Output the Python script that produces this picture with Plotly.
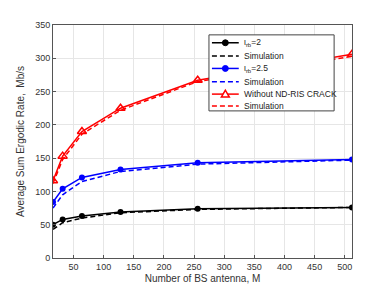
import plotly.graph_objects as go

M = [16, 32, 64, 128, 256, 512]
theory_2 = [50, 58, 63, 69, 74, 76]
sim_2 = [43, 53, 60, 68, 73, 76]
theory_25 = [84, 104, 121, 133, 143, 148]
sim_25 = [75, 95, 115, 130, 141, 147]
theory_no = [116, 153, 190, 225, 267, 306]
sim_no = [112, 148, 186, 222, 265, 303]
legend_labels = ["ι<sub>rb</sub>=2", "Simulation", "ι<sub>rb</sub>=2.5", "Simulation",
                 "Without ND-RIS CRACK", "Simulation"]

W, H = 388, 291
OFF = 8  # page body margin offset
# target plot area on screen: x 51..352, y 22..258
L = 51 - OFF
T = 22 - OFF
R = W - (352 - OFF)
B = H - (258 - OFF)
PW, PH = W - L - R, H - T - B
DASH = "5px,3px"


def px(x):
    return (x - OFF - L) / PW


def py(y):
    return (H - B - (y - OFF)) / PH


fig = go.Figure()
styles = [
    dict(color="black", dash="solid", marker="circle"),
    dict(color="black", dash=DASH, marker=None),
    dict(color="blue", dash="solid", marker="circle"),
    dict(color="blue", dash=DASH, marker=None),
    dict(color="red", dash="solid", marker="triangle"),
    dict(color="red", dash=DASH, marker=None),
]
series = [theory_2, sim_2, theory_25, sim_25, theory_no, sim_no]
for vals, st, name in zip(series, styles, legend_labels):
    if st["marker"] == "circle":
        fig.add_trace(go.Scatter(x=M, y=vals, mode="lines+markers", name=name,
                                 line=dict(color=st["color"], width=1.5),
                                 marker=dict(symbol="circle", size=6, color=st["color"])))
    elif st["marker"] == "triangle":
        fig.add_trace(go.Scatter(x=M, y=vals, mode="lines+markers", name=name,
                                 line=dict(color=st["color"], width=1.5),
                                 marker=dict(symbol="triangle-up-open", size=8, color=st["color"],
                                             line=dict(width=1.5))))
    else:
        fig.add_trace(go.Scatter(x=M, y=vals, mode="lines", name=name,
                                 line=dict(color=st["color"], width=1.5, dash=DASH)))

font = "Liberation Sans, Arial"
axis_common = dict(showline=True, mirror=True, linecolor="#555", linewidth=1,
                   ticks="inside", ticklen=3, tickcolor="#555",
                   showgrid=True, gridcolor="#e6e6e6", gridwidth=1, zeroline=False,
                   tickfont=dict(family=font, size=9, color="#333"))
fig.update_xaxes(range=[16, 512], tickvals=[50, 100, 150, 200, 250, 300, 350, 400, 450, 500],
                 title=dict(text="Number of BS antenna, M", font=dict(family=font, size=10, color="#333"), standoff=4),
                 **axis_common)
fig.update_yaxes(range=[0, 350], tickvals=[0, 50, 100, 150, 200, 250, 300, 350],
                 title=dict(text="Average Sum Ergodic Rate,  Mb/s", font=dict(family=font, size=10, color="#333"), standoff=8),
                 **axis_common)

# manual compact legend (matches MATLAB-style legend box)
shapes = [dict(type="rect", xref="paper", yref="paper", x0=px(208), x1=px(334), y0=py(109), y1=py(32),
               fillcolor="white", line=dict(color="#444", width=1), layer="above")]
annotations = []
row_y = [40, 53.5, 66, 79.5, 92, 104]
for yy, st, name in zip(row_y, styles, legend_labels):
    shapes.append(dict(type="line", xref="paper", yref="paper", x0=px(211), x1=px(238), y0=py(yy), y1=py(yy),
                       line=dict(color=st["color"], width=1.5, dash=st["dash"]), layer="above"))
    cx = 224.5
    if st["marker"] == "circle":
        r = 3
        shapes.append(dict(type="circle", xref="paper", yref="paper", x0=px(cx - r), x1=px(cx + r),
                           y0=py(yy + r), y1=py(yy - r), fillcolor=st["color"], line=dict(color=st["color"], width=1),
                           layer="above"))
    elif st["marker"] == "triangle":
        pts = [(cx - 4, yy + 3), (cx + 4, yy + 3), (cx, yy - 4)]
        path = "M " + " L ".join(f"{px(a)},{py(b)}" for a, b in pts) + " Z"
        shapes.append(dict(type="path", xref="paper", yref="paper", path=path, fillcolor="white",
                           line=dict(color=st["color"], width=1.5), layer="above"))
    annotations.append(dict(xref="paper", yref="paper", x=px(241), y=py(yy), xanchor="left", yanchor="middle",
                            text=name, showarrow=False, font=dict(family=font, size=8.5, color="#222")))

fig.update_layout(width=W, height=H, margin=dict(l=L, r=R, t=T, b=B),
                  paper_bgcolor="white", plot_bgcolor="white",
                  showlegend=False, shapes=shapes, annotations=annotations)
fig.write_html("out.html")
